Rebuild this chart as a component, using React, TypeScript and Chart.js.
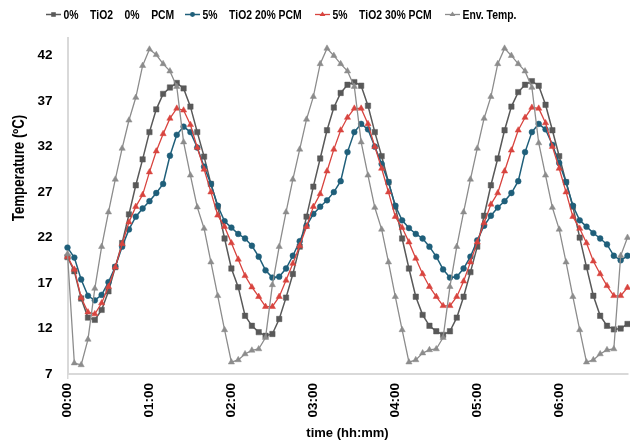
import React, { useEffect, useRef } from 'react';
import { Chart, registerables } from 'chart.js';

Chart.register(...registerables);

const FONT = "'Liberation Sans', Arial, sans-serif";

// categories: readings every 5 minutes from 00:00 to 06:50
const timeLabels: string[] = [];
for (let m = 0; m <= 410; m += 5) {
  timeLabels.push(`${String(Math.floor(m / 60)).padStart(2, '0')}:${String(m % 60).padStart(2, '0')}`);
}
const hourTicks = ['00:00', '01:00', '02:00', '03:00', '04:00', '05:00', '06:00'];
const yTicks = [7, 12, 17, 22, 27, 32, 37, 42];

const seriesNames = ['0%    TiO2    0%    PCM', '5%    TiO2 20% PCM', '5%    TiO2 30% PCM', 'Env. Temp.'];
const yTitle = 'Temperature (ºC)';
const xTitle = 'time (hh:mm)';

const plain = [
  19.85, 18.3, 15.3, 13.2, 12.95, 14.05, 16.1, 18.75, 21.4, 24.55,
  27.75, 30.6, 33.6, 36.1, 37.8, 38.5, 39.0, 38.4, 36.4, 33.6,
  30.9, 27.9, 25.4, 21.9, 18.6, 16.55, 13.4, 12.3, 11.6, 11.2,
  11.4, 13.05, 15.4, 18.0, 21.0, 24.3, 27.6, 30.7, 33.8, 36.3,
  37.9, 38.8, 39.1, 38.7, 36.5, 33.6, 30.95, 28.1, 25.4, 21.9,
  18.6, 15.5, 13.5, 12.3, 11.7, 11.3, 11.7, 13.2, 15.5, 18.2,
  21.0, 24.4, 27.75, 30.7, 33.8, 36.4, 38.0, 38.8, 39.2, 38.7,
  36.6, 33.8, 30.95, 28.1, 25.4, 22.0, 18.75, 15.6, 13.4, 12.3,
  11.9, 12.0, 12.5,
];

const tio2Pcm20 = [
  20.9, 19.8, 17.4, 15.6, 15.1, 15.7, 17.1, 18.8, 21.0, 22.9,
  24.3, 25.2, 26.0, 26.9, 27.9, 31.0, 33.3, 34.2, 33.6, 31.9,
  29.8, 27.9, 25.5, 23.8, 23.1, 22.4, 21.9, 21.1, 19.9, 18.4,
  17.6, 17.7, 18.6, 20.0, 21.6, 23.3, 24.6, 25.4, 26.1, 27.0,
  28.2, 31.4, 33.6, 34.5, 33.9, 32.0, 30.1, 28.1, 25.5, 23.9,
  23.05, 22.4, 21.9, 21.0, 19.9, 18.5, 17.6, 17.7, 18.6, 19.9,
  21.7, 23.3, 24.4, 25.3, 26.0, 26.9, 28.2, 31.4, 33.6, 34.5,
  33.9, 32.2, 30.2, 28.1, 25.5, 23.9, 23.2, 22.5, 21.9, 21.25,
  20.0, 19.5, 20.0,
];

const tio2Pcm30 = [
  19.9, 18.5, 15.4, 13.8, 13.6, 14.8, 16.6, 18.75, 21.3, 23.7,
  25.4, 26.7, 29.2, 31.5, 33.4, 35.1, 36.2, 36.0, 34.4, 31.9,
  29.5, 27.0, 24.45, 23.2, 21.4, 19.6, 17.8, 16.55, 15.5, 14.4,
  14.4, 15.5, 17.3, 19.15, 21.1, 23.2, 25.4, 26.8, 29.3, 31.7,
  33.8, 35.2, 36.2, 36.2, 34.5, 32.0, 29.6, 27.0, 24.3, 23.1,
  21.5, 19.7, 18.0, 16.6, 15.5, 14.5, 14.5, 15.5, 17.2, 19.3,
  21.5, 23.6, 25.65, 26.9, 29.3, 31.6, 33.8, 35.2, 36.3, 36.2,
  34.6, 32.0, 29.6, 27.0, 24.3, 23.0, 21.4, 19.4, 18.0, 16.7,
  15.6, 15.6, 16.5,
];

const envTemp = [
  20.2, 8.2, 8.0, 10.8, 16.4, 21.0, 24.8, 28.4, 31.8, 34.9,
  37.4, 40.9, 42.7, 42.1, 41.1, 40.3, 38.6, 32.5, 28.85, 25.35,
  23.0, 19.3, 15.6, 11.85, 8.3, 8.55, 9.2, 9.6, 9.75, 11.0,
  16.8, 21.0, 24.8, 28.4, 31.7, 35.0, 37.5, 41.1, 42.8, 42.0,
  41.1, 40.3, 38.6, 32.5, 28.85, 25.3, 22.9, 19.3, 15.5, 11.85,
  8.3, 8.55, 9.3, 9.65, 9.75, 11.0, 16.6, 21.0, 24.8, 28.4,
  31.8, 35.1, 37.5, 41.1, 42.8, 42.0, 41.1, 40.3, 38.5, 32.4,
  28.85, 25.3, 22.9, 19.3, 15.5, 11.85, 8.3, 8.55, 9.2, 9.65,
  9.75, 20.0, 22.0,
];

const seriesValues = [plain, tio2Pcm20, tio2Pcm30, envTemp];
const seriesColors = ['#595959', '#1F5F7A', '#D8443F', '#8C8C8C'];
const seriesMarkers = ['rect', 'circle', 'triangle', 'triangle'];
const seriesRadius = [3.8, 2.9, 3.6, 3.6];
const seriesWidths = [1.5, 1.5, 1.3, 1.3];
const legendStarts = [46, 185, 315, 445];

const AXIS_COLOR = '#D9D9D9';

function drawMarker(ctx: CanvasRenderingContext2D, style: string, x: number, y: number, r: number) {
  ctx.beginPath();
  if (style === 'rect') {
    const s = r * Math.SQRT1_2;
    ctx.rect(x - s, y - s, 2 * s, 2 * s);
  } else if (style === 'circle') {
    ctx.arc(x, y, r, 0, Math.PI * 2);
  } else {
    const hw = r * 0.95;
    ctx.moveTo(x, y - r);
    ctx.lineTo(x + hw, y + r / 2);
    ctx.lineTo(x - hw, y + r / 2);
    ctx.closePath();
  }
  ctx.fill();
}

const overlayPlugin = {
  id: 'overlay',
  afterDraw(chart: any) {
    const ctx: CanvasRenderingContext2D = chart.ctx;
    // y axis title (slightly condensed, like the original narrow face)
    ctx.save();
    ctx.translate(20, 168);
    ctx.rotate(-Math.PI / 2);
    ctx.scale(0.83, 1);
    ctx.font = `bold 16px ${FONT}`;
    ctx.fillStyle = '#000';
    ctx.textAlign = 'center';
    ctx.textBaseline = 'middle';
    ctx.fillText(yTitle, 0, 0);
    ctx.restore();

    // legend
    const y = 14.5;
    chart.data.datasets.forEach((ds: any, i: number) => {
      const x = legendStarts[i];
      ctx.save();
      ctx.strokeStyle = ds.borderColor;
      ctx.fillStyle = ds.borderColor;
      ctx.lineWidth = ds.borderWidth;
      ctx.beginPath();
      ctx.moveTo(x, y);
      ctx.lineTo(x + 15, y);
      ctx.stroke();
      drawMarker(ctx, seriesMarkers[i], x + 7.5, y, seriesRadius[i] * 0.85);
      ctx.translate(x + 17.5, y + 0.5);
      ctx.scale(0.8, 1);
      ctx.font = `bold 13px ${FONT}`;
      ctx.textAlign = 'left';
      ctx.textBaseline = 'middle';
      ctx.fillStyle = '#000';
      ctx.fillText(ds.label, 0, 0);
      ctx.restore();
    });
  },
};

export default function App() {
  const canvasRef = useRef<HTMLCanvasElement | null>(null);

  useEffect(() => {
    if (!canvasRef.current) return;
    const isHour = (i: number) => hourTicks.includes(timeLabels[i]);
    const chart = new Chart(canvasRef.current, {
      type: 'line',
      data: {
        labels: timeLabels,
        datasets: seriesValues.map((vals, i) => ({
          label: seriesNames[i],
          data: vals,
          borderColor: seriesColors[i],
          backgroundColor: seriesColors[i],
          pointBackgroundColor: seriesColors[i],
          pointBorderColor: seriesColors[i],
          pointBorderWidth: 0.5,
          borderWidth: seriesWidths[i],
          pointStyle: seriesMarkers[i] as any,
          pointRadius: seriesRadius[i],
          tension: 0,
          fill: false,
          order: seriesValues.length - i,
        })),
      },
      options: {
        animation: false,
        responsive: false,
        maintainAspectRatio: false,
        devicePixelRatio: 1,
        layout: { padding: { top: 37.5, bottom: 0, left: 0, right: 0.75 } },
        plugins: {
          legend: { display: false },
          tooltip: { enabled: false },
          title: { display: false },
        },
        scales: {
          x: {
            type: 'category',
            offset: false,
            grid: {
              display: true,
              drawOnChartArea: false,
              drawTicks: true,
              tickLength: 5,
              lineWidth: 1.5,
              color: (c: any) => (isHour(c.index) ? AXIS_COLOR : 'rgba(0,0,0,0)'),
              tickColor: (c: any) => (isHour(c.index) ? AXIS_COLOR : 'rgba(0,0,0,0)'),
            },
            border: { display: true, color: AXIS_COLOR, width: 2 },
            ticks: {
              autoSkip: false,
              maxRotation: 90,
              minRotation: 90,
              padding: 4,
              color: '#000',
              font: { family: FONT, size: 13.5, weight: 'bold' },
              callback: (_v: any, i: number) => (isHour(i) ? timeLabels[i] : null),
            },
            title: {
              display: true,
              text: xTitle,
              color: '#000',
              font: { family: FONT, size: 13, weight: 'bold' },
              padding: { top: 0, bottom: 2.5 },
            },
            afterFit: (s: any) => {
              s.height = 70;
              s.paddingLeft = 0;
              s.paddingRight = 0;
            },
          },
          y: {
            min: 7,
            max: 44,
            afterBuildTicks: (s: any) => {
              s.ticks = yTicks.map((v) => ({ value: v }));
            },
            grid: { display: false, drawTicks: false },
            border: { display: true, color: AXIS_COLOR, width: 2 },
            ticks: {
              padding: 15,
              color: '#000',
              font: { family: FONT, size: 13.5, weight: 'bold' },
            },
            afterFit: (s: any) => {
              s.width = 67.5;
              s.paddingTop = 0;
              s.paddingBottom = 0;
            },
          },
        },
      },
      plugins: [overlayPlugin],
    });
    return () => chart.destroy();
  }, []);

  return (
    <div style={{ position: 'fixed', left: 0, top: 0, width: 630, height: 444, overflow: 'hidden', background: '#fff' }}>
      <canvas ref={canvasRef} width={632} height={444} style={{ display: 'block' }} />
    </div>
  );
}
